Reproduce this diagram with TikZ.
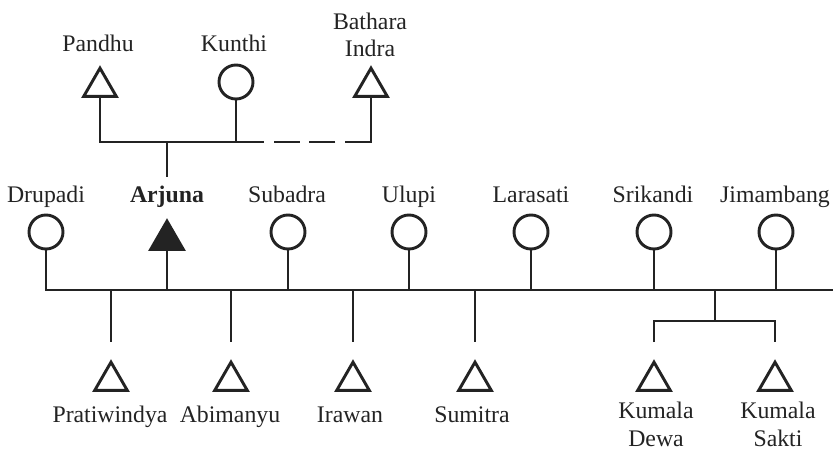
\documentclass[tikz,border=0pt]{standalone}
\usepackage{fontspec}
\setmainfont{Liberation Serif}
\usepackage{xcolor}
\usetikzlibrary{shapes.geometric}
\definecolor{ink}{RGB}{35,35,35}

\begin{document}
\begin{tikzpicture}[x=0.03cm, y=-0.03cm, line width=2.5pt, color=ink,
        every node/.style={font=\fontsize{20.3}{23.4}\selectfont},
        male/.style={draw, regular polygon, regular polygon sides=3,
            minimum size=1.13cm, inner sep=0pt},
        female/.style={draw, circle, minimum size=1.02cm, inner sep=0pt},
        ego/.style={male, fill=ink},
        lbl/.style={anchor=base, align=center, inner sep=0pt}]
        \useasboundingbox (0,0) rectangle (833,452);

        \node[male] (pandhu) at (100,87) {};
        \node[female] (kunthi) at (236,82) {};
        \node[male] (bathara) at (371,87) {};
        \node[lbl] (pandhu-t) at (98,52) {Pandhu};
        \node[lbl] (kunthi-t) at (234,52) {Kunthi};
        \node[lbl] (bathara-t) at (370,57) {Bathara\\Indra};

        \coordinate (dash) at (262,142);
        \coordinate (arj-top) at (167,142);
        \coordinate (arj-end) at (167,177);
        \draw (pandhu) -- (pandhu |- dash) -- (dash);
        \draw (kunthi) -- (kunthi |- dash);
        \draw[line cap=rect] (bathara) -- (bathara |- dash);
        \draw[dash pattern=on 22pt off 8.5pt] (bathara |- dash) -- (dash);
        \draw (arj-top) -- (arj-end);

        \node[female] (drupadi) at (46,232) {};
        \node[ego] (arjuna) at (167,240) {};
        \node[female] (subadra) at (288,232) {};
        \node[female] (ulupi) at (409,232) {};
        \node[female] (larasati) at (531,232) {};
        \node[female] (srikandi) at (654,232) {};
        \node[female] (jimambang) at (776,232) {};
        \node[lbl] (drupadi-t) at (46,203) {Drupadi};
        \node[lbl] (arjuna-t) at (167,203) {\bfseries Arjuna};
        \node[lbl] (subadra-t) at (287,203) {Subadra};
        \node[lbl] (ulupi-t) at (409,203) {Ulupi};
        \node[lbl] (larasati-t) at (531,203) {Larasati};
        \node[lbl] (srikandi-t) at (653,203) {Srikandi};
        \node[lbl] (jimambang-t) at (775,203) {Jimambang};

        \coordinate (wives) at (833,290);
        \coordinate (kids) at (0,342);
        \coordinate (twins) at (715,321);
        \draw (drupadi) |- (wives);
        \draw (arjuna) -- (arjuna |- wives);
        \draw (subadra) -- (subadra |- wives);
        \draw (ulupi) -- (ulupi |- wives);
        \draw (larasati) -- (larasati |- wives);
        \draw (srikandi) -- (srikandi |- wives);
        \draw (jimambang) -- (jimambang |- wives);

        \node[male] (pratiwindya) at (111,381) {};
        \node[male] (abimanyu) at (231,381) {};
        \node[male] (irawan) at (353,381) {};
        \node[male] (sumitra) at (475,381) {};
        \node[male] (dewa) at (654,381) {};
        \node[male] (sakti) at (775,381) {};
        \node[lbl] (pratiwindya-t) at (110,422) {Pratiwindya};
        \node[lbl] (abimanyu-t) at (230,422) {Abimanyu};
        \node[lbl] (irawan-t) at (350,422) {Irawan};
        \node[lbl] (sumitra-t) at (472,422) {Sumitra};
        \node[lbl] (dewa-t) at (656,446) {Kumala\\Dewa};
        \node[lbl] (sakti-t) at (778,446) {Kumala\\Sakti};

        \draw (pratiwindya |- wives) -- (pratiwindya |- kids);
        \draw (abimanyu |- wives) -- (abimanyu |- kids);
        \draw (irawan |- wives) -- (irawan |- kids);
        \draw (sumitra |- wives) -- (sumitra |- kids);
        \draw (twins |- wives) -- (twins);
        \draw (dewa |- kids) |- (twins) -| (sakti |- kids);
\end{tikzpicture}
\end{document}
